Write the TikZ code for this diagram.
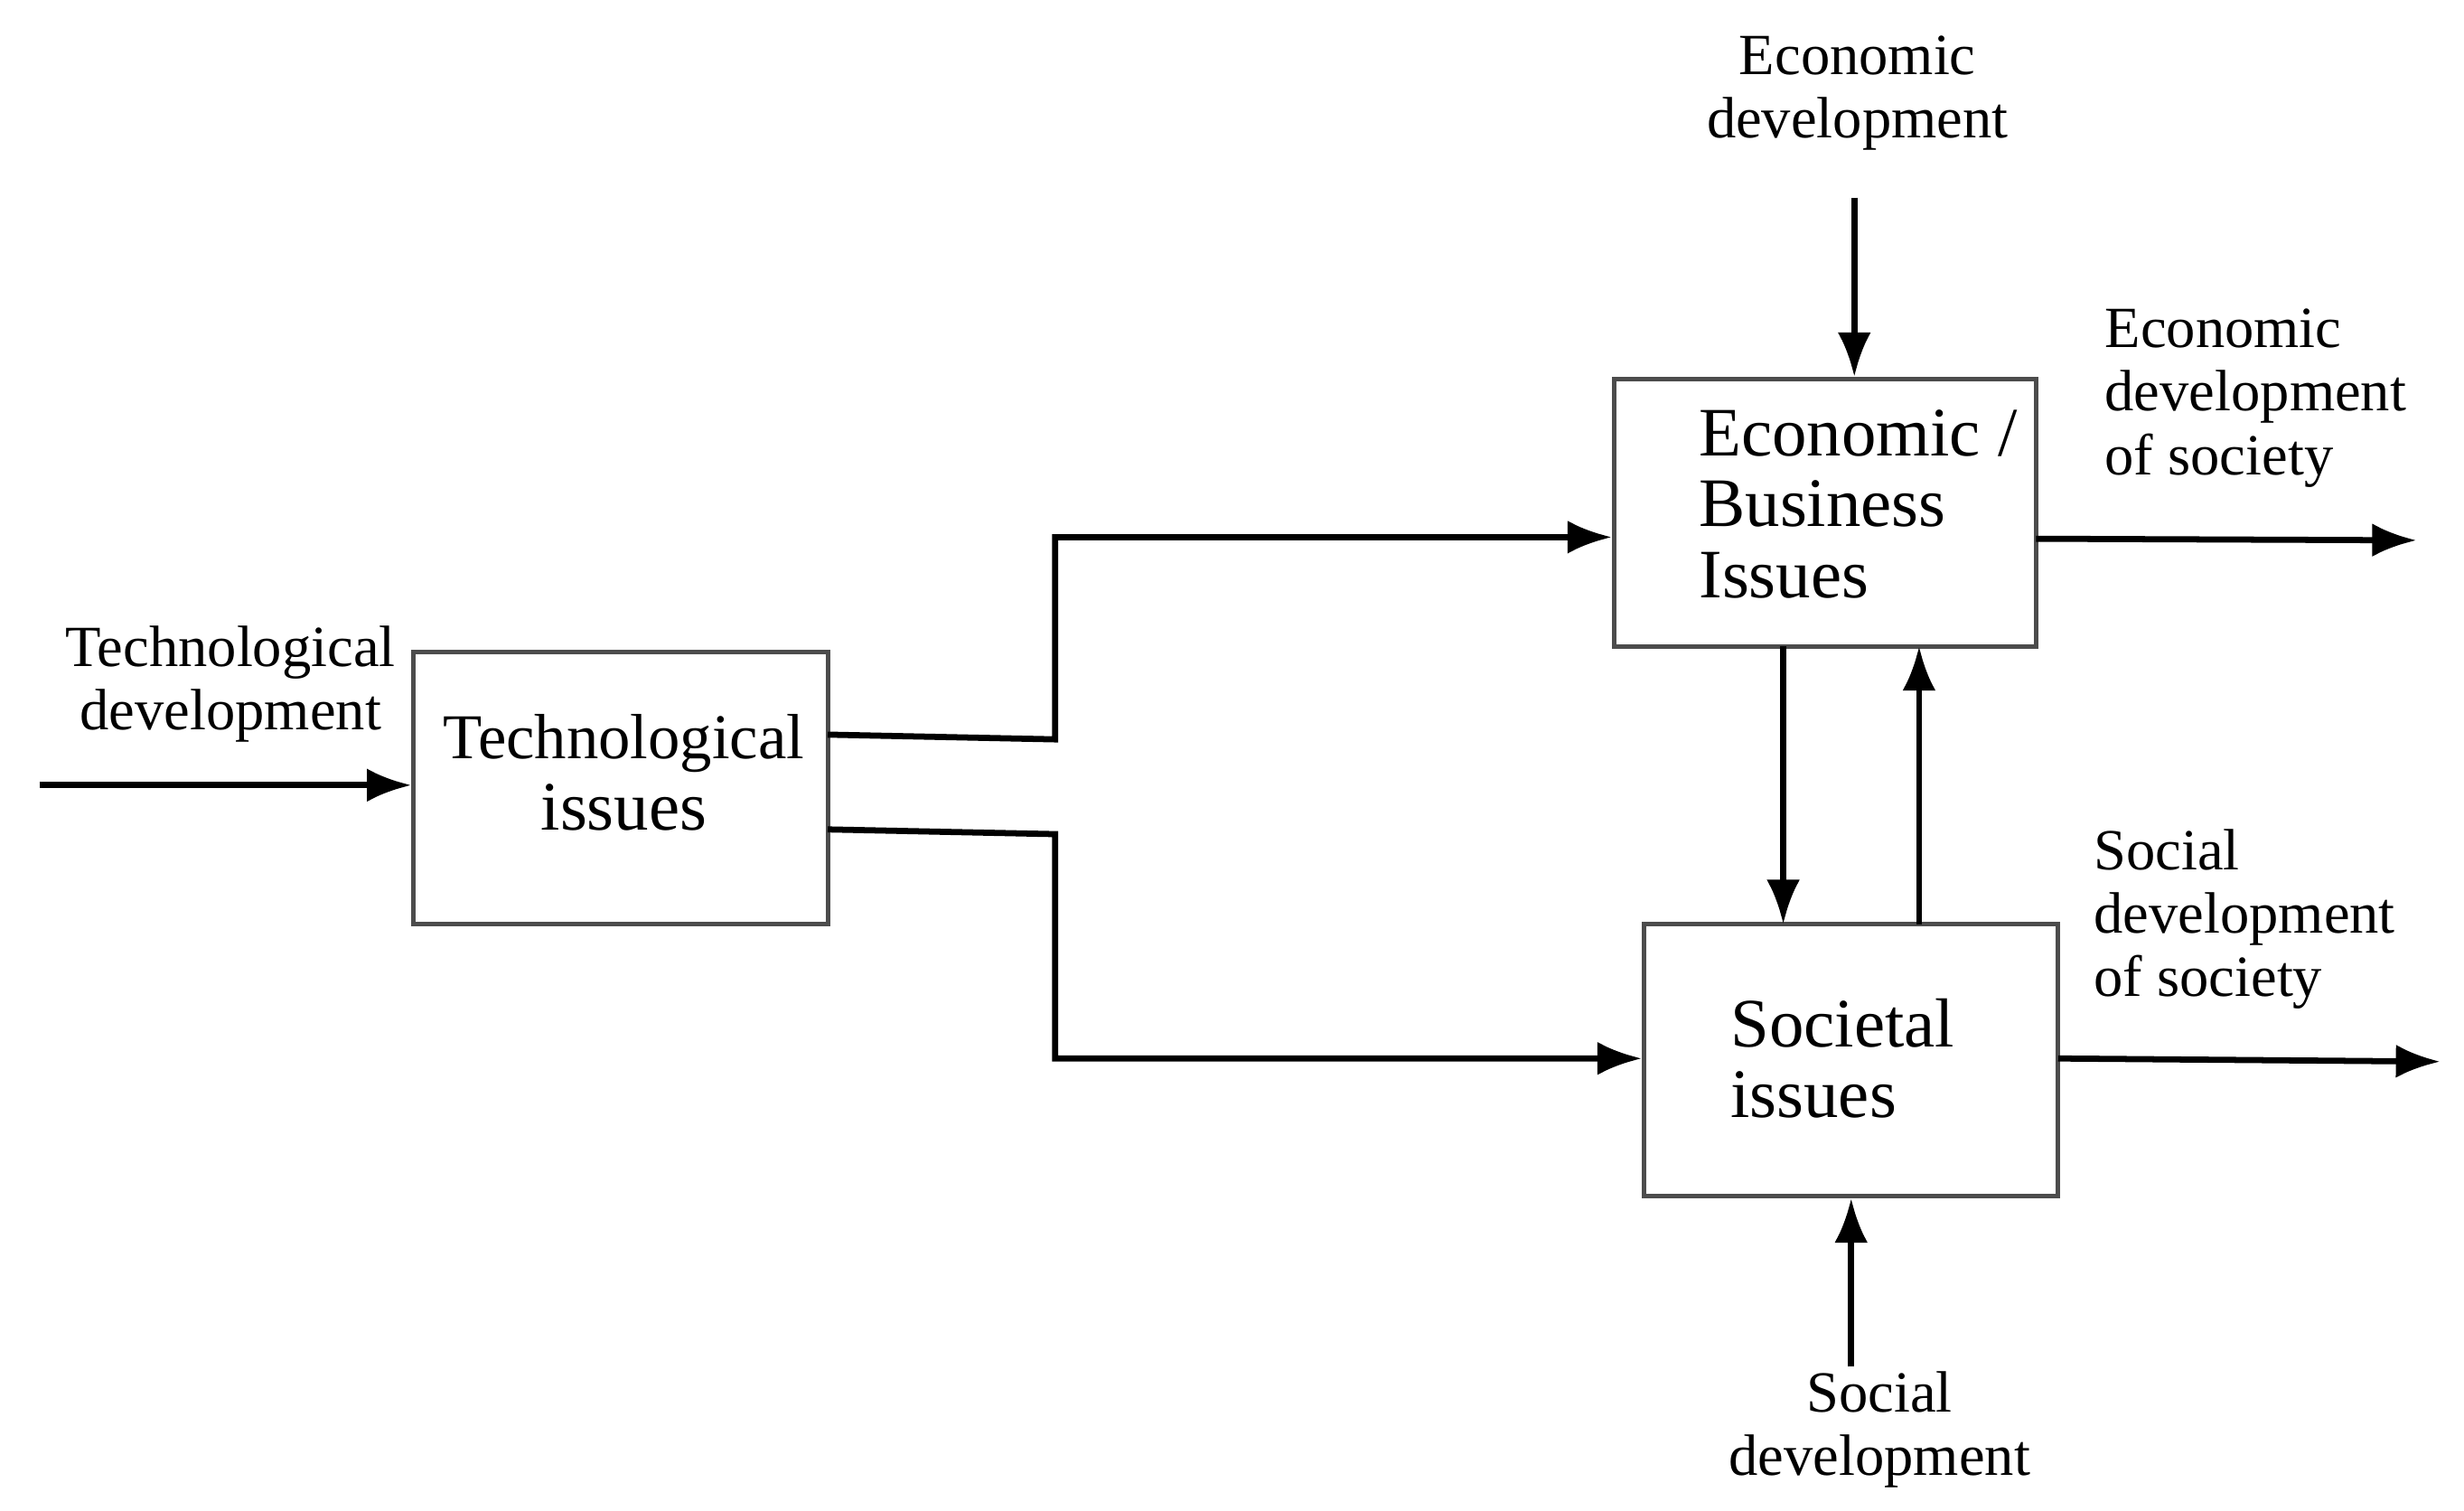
\documentclass[tikz,border=0pt]{standalone}
\usepackage{fontspec}
\setmainfont{Liberation Serif}
\usetikzlibrary{arrows.meta}
\begin{document}
\begin{tikzpicture}[x=0.01cm,y=-0.01cm,
  box/.style={draw=black!70,line width=0.8pt,inner sep=0pt},
  lab/.style={font=\fontsize{10.5}{11.4}\selectfont,align=center,inner sep=0pt},
  llab/.style={font=\fontsize{10.5}{11.4}\selectfont,align=left,inner sep=0pt,anchor=west},
  btxt/.style={font=\fontsize{12.5}{12.8}\selectfont,inner sep=0pt},
  arr/.style={line width=1.1pt,-{Latex[length=8pt,width=6pt]}},
  ln/.style={line width=1.1pt}]
\useasboundingbox (0,0) rectangle (1560,956);
% boxes
\node[box,minimum width=2.62cm,minimum height=1.72cm] (tech) at (393,499) {};
\node[box,minimum width=2.67cm,minimum height=1.69cm] (econ) at (1155.5,324.5) {};
\node[box,minimum width=2.62cm,minimum height=1.72cm] (soc) at (1172,671) {};
\node[btxt,align=center] at (395,489) {\fontsize{11.5}{12.8}\selectfont Technological\\issues};
\node[btxt,align=left,anchor=west] at (1075,319) {Economic /\\Business\\Issues};
\node[btxt,align=left,anchor=west] at (1095,670) {Societal\\issues};
% labels
\node[lab] (ltd) at (146,433) {Technological\\development};
\node[lab] (led) at (1176,59) {Economic\\development};
\node[llab] (leo) at (1332,252) {Economic\\development\\of society};
\node[llab] (lso) at (1325,582) {Social\\development\\of society};
\node[lab] (lsd) at (1190,905) {Social\\development};
% coordinates
\coordinate (tdin) at (25,497);
\coordinate (t1) at (524,465);
\coordinate (b1) at (668,468);
\coordinate (b2) at (668,340);
\coordinate (t2) at (524,525);
\coordinate (b3) at (668,528);
\coordinate (b4) at (668,670);
\coordinate (edin) at (1174,125);
\coordinate (eo1) at (1289,341);
\coordinate (eo2) at (1530,342);
\coordinate (so1) at (1303,670);
\coordinate (so2) at (1545,672);
\coordinate (sdin) at (1172,865);
% connectors
\draw[arr] (tdin) -- (tdin -| tech.west);
\draw[arr] (t1) -- (b1) -- (b2) -- (b2 -| econ.west);
\draw[arr] (t2) -- (b3) -- (b4) -- (b4 -| soc.west);
\draw[arr] (edin) -- (edin |- econ.north);
\draw[arr] (eo1) -- (eo2);
\draw[arr] (so1) -- (so2);
\draw[arr] (sdin) -- (sdin |- soc.south);
\draw[arr] (1129,409) -- (1129,585);
\draw[arr] (1215,585) -- (1215,409);
\end{tikzpicture}
\end{document}
